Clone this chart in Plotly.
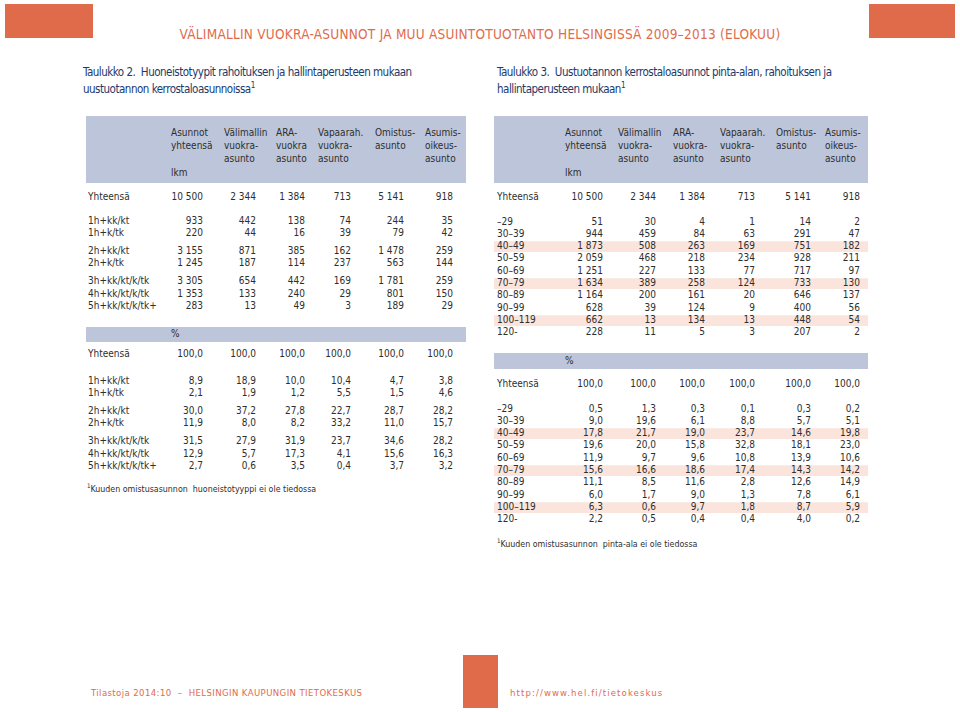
import plotly.graph_objects as go

# ---------------- data ----------------
col_headers_t2 = [["Asunnot", "yhteensä"], ["Välimallin", "vuokra-", "asunto"], ["ARA-", "vuokra", "asunto"],
                  ["Vapaarah.", "vuokra-", "asunto"], ["Omistus-", "asunto"], ["Asumis-", "oikeus-", "asunto"]]
col_headers_t3 = [["Asunnot", "yhteensä"], ["Välimallin", "vuokra-", "asunto"], ["ARA-", "vuokra-", "asunto"],
                  ["Vapaarah.", "vuokra-", "asunto"], ["Omistus-", "asunto"], ["Asumis-", "oikeus-", "asunto"]]
unit_label = "lkm"
pct_label = "%"
total_label = "Yhteensä"

t2_rows = ["1h+kk/kt", "1h+k/tk", "2h+kk/kt", "2h+k/tk", "3h+kk/kt/k/tk", "4h+kk/kt/k/tk", "5h+kk/kt/k/tk+"]
t2_groups = [2, 2, 3]
t2_total = [10500, 2344, 1384, 713, 5141, 918]
t2_asunnot = [933, 220, 3155, 1245, 3305, 1353, 283]
t2_valimallin = [442, 44, 871, 187, 654, 133, 13]
t2_ara = [138, 16, 385, 114, 442, 240, 49]
t2_vapaarah = [74, 39, 162, 237, 169, 29, 3]
t2_omistus = [244, 79, 1478, 563, 1781, 801, 189]
t2_asumis = [35, 42, 259, 144, 259, 150, 29]

p2_total = [100.0, 100.0, 100.0, 100.0, 100.0, 100.0]
p2_asunnot = [8.9, 2.1, 30.0, 11.9, 31.5, 12.9, 2.7]
p2_valimallin = [18.9, 1.9, 37.2, 8.0, 27.9, 5.7, 0.6]
p2_ara = [10.0, 1.2, 27.8, 8.2, 31.9, 17.3, 3.5]
p2_vapaarah = [10.4, 5.5, 22.7, 33.2, 23.7, 4.1, 0.4]
p2_omistus = [4.7, 1.5, 28.7, 11.0, 34.6, 15.6, 3.7]
p2_asumis = [3.8, 4.6, 28.2, 15.7, 28.2, 16.3, 3.2]

t3_rows = ["–29", "30–39", "40–49", "50–59", "60–69", "70–79", "80–89", "90–99", "100–119", "120-"]
t3_highlight = [2, 5, 8]
t3_total = [10500, 2344, 1384, 713, 5141, 918]
t3_asunnot = [51, 944, 1873, 2059, 1251, 1634, 1164, 628, 662, 228]
t3_valimallin = [30, 459, 508, 468, 227, 389, 200, 39, 13, 11]
t3_ara = [4, 84, 263, 218, 133, 258, 161, 124, 134, 5]
t3_vapaarah = [1, 63, 169, 234, 77, 124, 20, 9, 13, 3]
t3_omistus = [14, 291, 751, 928, 717, 733, 646, 400, 448, 207]
t3_asumis = [2, 47, 182, 211, 97, 130, 137, 56, 54, 2]

p3_total = [100.0, 100.0, 100.0, 100.0, 100.0, 100.0]
p3_asunnot = [0.5, 9.0, 17.8, 19.6, 11.9, 15.6, 11.1, 6.0, 6.3, 2.2]
p3_valimallin = [1.3, 19.6, 21.7, 20.0, 9.7, 16.6, 8.5, 1.7, 0.6, 0.5]
p3_ara = [0.3, 6.1, 19.0, 15.8, 9.6, 18.6, 11.6, 9.0, 9.7, 0.4]
p3_vapaarah = [0.1, 8.8, 23.7, 32.8, 10.8, 17.4, 2.8, 1.3, 1.8, 0.4]
p3_omistus = [0.3, 5.7, 14.6, 18.1, 13.9, 14.3, 12.6, 7.8, 8.7, 4.0]
p3_asumis = [0.2, 5.1, 19.8, 23.0, 10.6, 14.2, 14.9, 6.1, 5.9, 0.2]

title_text = "VÄLIMALLIN VUOKRA-ASUNNOT JA MUU ASUINTOTUOTANTO HELSINGISSÄ 2009–2013 (ELOKUU)"
cap2 = ["Taulukko 2.  Huoneistotyypit rahoituksen ja hallintaperusteen mukaan", "uustuotannon kerrostaloasunnoissa<sup>1</sup>"]
cap3 = ["Taulukko 3.  Uustuotannon kerrostaloasunnot pinta-alan, rahoituksen ja", "hallintaperusteen mukaan<sup>1</sup>"]
note2 = "<sup>1</sup>Kuuden omistusasunnon  huoneistotyyppi ei ole tiedossa"
note3 = "<sup>1</sup>Kuuden omistusasunnon  pinta-ala ei ole tiedossa"
footer_left = "Tilastoja 2014:10  –  HELSINGIN KAUPUNGIN TIETOKESKUS"
footer_right = "http://www.hel.fi/tietokeskus"
page_no = "9"

# ---------------- styles ----------------
ORANGE = "#df6b4b"
BAND = "#bcc5da"
PINK = "#fbe4dc"
TXT = "#2e2e2e"
NAVY = "#22396b"
BODY_FONT = "DejaVu Sans Condensed, DejaVu Sans, Verdana, sans-serif"
COND_FONT = "DejaVu Sans Condensed, Liberation Sans Narrow, sans-serif"
FS = 10


def fmt_int(v):
    return f"{v:,}".replace(",", " ")


def fmt_dec(v):
    return f"{v:.1f}".replace(".", ",")


def spaced(s, ls):
    return f'<span style="letter-spacing:{ls}px">{s}</span>'


fig = go.Figure()


def text_trace(xs, ys, texts, pos, size=FS, color=TXT, family=BODY_FONT):
    fig.add_trace(go.Scatter(x=xs, y=ys, text=texts, mode="text", textposition=pos,
                             textfont=dict(size=size, color=color, family=family),
                             hoverinfo="skip", showlegend=False))


def grouped_ys(base, groups, pitch, gap):
    ys, y = [], base
    for g in groups:
        for _ in range(g):
            ys.append(y)
            y += pitch
        y += gap
    return ys


def draw_table(left, right, label_x, col_right, col_hdr_x, headers, total_y, total_vals,
               rows, row_ys, cols, pct_band, pct_total_y, pct_total, pct_row_ys, pcts, highlight):
    fig.add_shape(type="rect", x0=left, x1=right, y0=116, y1=183, fillcolor=BAND, line_width=0, layer="below")
    fig.add_shape(type="rect", x0=left, x1=right, y0=pct_band[0], y1=pct_band[1], fillcolor=BAND, line_width=0, layer="below")
    for hi in highlight:
        for ys in (row_ys, pct_row_ys):
            fig.add_shape(type="rect", x0=left, x1=right, y0=ys[hi] - 5.3, y1=ys[hi] + 5.3,
                          fillcolor=PINK, line_width=0, layer="below")
    for cx, lines in zip(col_hdr_x, headers):
        ys = [133 + 13.4 * i for i in range(len(lines))]
        text_trace([cx] * len(lines), ys, lines, "middle right")
    text_trace([col_hdr_x[0]], [133 + 13.4 * 3], [unit_label], "middle right")
    text_trace([col_hdr_x[0]], [(pct_band[0] + pct_band[1]) / 2], [pct_label], "middle right")
    text_trace([label_x], [total_y], [total_label], "middle right")
    text_trace(col_right, [total_y] * 6, [fmt_int(v) for v in total_vals], "middle left")
    text_trace([label_x], [pct_total_y], [total_label], "middle right")
    text_trace(col_right, [pct_total_y] * 6, [fmt_dec(v) for v in pct_total], "middle left")
    text_trace([label_x] * len(rows), row_ys, rows, "middle right")
    text_trace([label_x] * len(rows), pct_row_ys, rows, "middle right")
    for cx, vals in zip(col_right, cols):
        text_trace([cx] * len(vals), row_ys, [fmt_int(v) for v in vals], "middle left")
    for cx, vals in zip(col_right, pcts):
        text_trace([cx] * len(vals), pct_row_ys, [fmt_dec(v) for v in vals], "middle left")


# Table 2
draw_table(86, 466, 88, [203, 256, 305, 351, 404, 453], [171, 224, 276, 318, 375, 425], col_headers_t2,
           197, t2_total, t2_rows, grouped_ys(221, t2_groups, 12.4, 5.6),
           [t2_asunnot, t2_valimallin, t2_ara, t2_vapaarah, t2_omistus, t2_asumis],
           (327, 342), 354, p2_total, grouped_ys(381, t2_groups, 12.4, 5.6),
           [p2_asunnot, p2_valimallin, p2_ara, p2_vapaarah, p2_omistus, p2_asumis], [])

# Table 3
draw_table(494, 868, 497, [603, 656, 705, 755, 811, 860], [565, 618, 673, 720, 776, 825], col_headers_t3,
           197, t3_total, t3_rows, [222 + 12.33 * i for i in range(len(t3_rows))],
           [t3_asunnot, t3_valimallin, t3_ara, t3_vapaarah, t3_omistus, t3_asumis],
           (353, 369), 384, p3_total, [409 + 12.33 * i for i in range(len(t3_rows))],
           [p3_asunnot, p3_valimallin, p3_ara, p3_vapaarah, p3_omistus, p3_asumis], t3_highlight)

# footnotes
text_trace([87], [490], [note2], "middle right", size=8.8)
text_trace([497], [545], [note3], "middle right", size=8.8)

# captions
text_trace([83, 83], [73, 90], [spaced(c, -0.5) for c in cap2], "middle right", size=11.5, color=NAVY, family=COND_FONT)
text_trace([497, 497], [73, 90], [spaced(c, -0.5) for c in cap3], "middle right", size=11.5, color=NAVY, family=COND_FONT)

# decorative blocks
fig.add_shape(type="rect", x0=5, x1=93, y0=4, y1=38, fillcolor=ORANGE, line_width=0)
fig.add_shape(type="rect", x0=869, x1=955, y0=4, y1=38, fillcolor=ORANGE, line_width=0)
fig.add_shape(type="rect", x0=463, x1=498, y0=655, y1=708, fillcolor=ORANGE, line_width=0)

text_trace([480], [36], [spaced(title_text, 0.25)], "middle center", size=13.5, color=ORANGE, family=COND_FONT)
text_trace([91], [694], [spaced(footer_left, 0.4)], "middle right", size=9.5, color=ORANGE, family=COND_FONT)
text_trace([510], [694], [spaced(footer_right, 1.1)], "middle right", size=9.5, color=ORANGE, family=COND_FONT)
text_trace([480.5], [694], ["<b>" + page_no + "</b>"], "middle center", size=11, color="white", family=COND_FONT)

fig.update_layout(
    width=960, height=712, margin=dict(l=0, r=0, t=0, b=0),
    paper_bgcolor="white", plot_bgcolor="white",
    xaxis=dict(range=[0, 960], visible=False, fixedrange=True),
    yaxis=dict(range=[712, 0], visible=False, fixedrange=True),
    showlegend=False,
)
fig.write_html("out.html", config={"displayModeBar": False},
               post_script="document.body.style.margin='0';")
